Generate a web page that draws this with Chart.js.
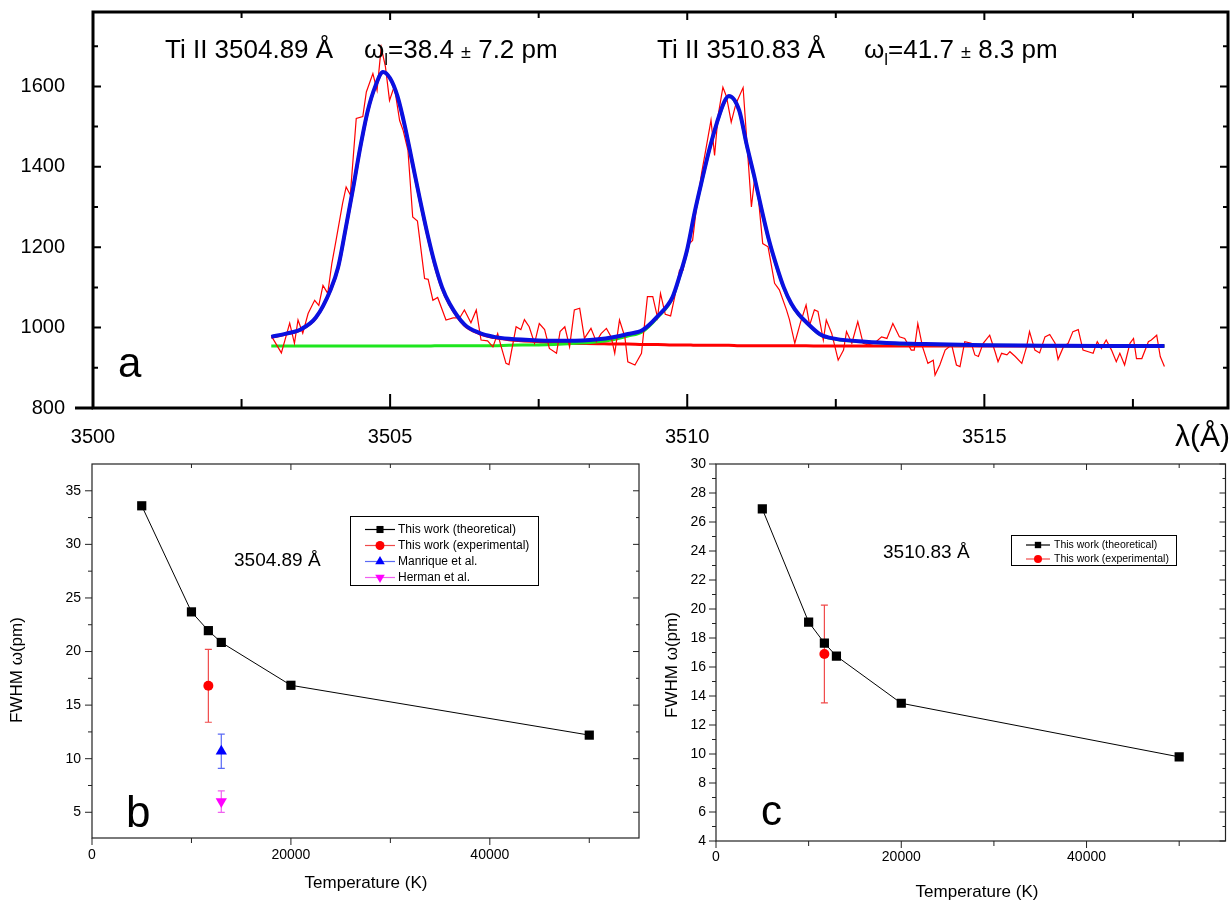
<!DOCTYPE html>
<html>
<head>
<meta charset="utf-8">
<script src="https://cdn.jsdelivr.net/npm/chart.js@4.4.0/dist/chart.umd.min.js"></script>
<style>
  body { margin: 0; background: #fff; width: 1232px; height: 904px; overflow: hidden; position: relative; }
  canvas { position: absolute; }
</style>
</head>
<body>
<canvas id="panelA" width="1232" height="460" style="left:0;top:0"></canvas>
<canvas id="panelB" width="650" height="452" style="left:0;top:452px"></canvas>
<canvas id="panelC" width="582" height="452" style="left:650px;top:452px"></canvas>
<script>
const specWl = [
  3503.01, 3503.17, 3503.31, 3503.39, 3503.45, 3503.53, 3503.62, 3503.73, 3503.80, 3503.87,
  3503.95, 3504.02, 3504.09, 3504.20, 3504.26, 3504.33, 3504.43, 3504.54, 3504.60, 3504.71,
  3504.78, 3504.85, 3504.92, 3504.99, 3505.07, 3505.16, 3505.22, 3505.30, 3505.38, 3505.46,
  3505.58, 3505.64, 3505.72, 3505.80, 3505.94, 3506.06, 3506.17, 3506.25, 3506.36, 3506.45,
  3506.53, 3506.64, 3506.73, 3506.81, 3506.87, 3506.95, 3507.00, 3507.12, 3507.20, 3507.26,
  3507.34, 3507.43, 3507.51, 3507.60, 3507.68, 3507.80, 3507.86, 3507.94, 3508.02, 3508.10,
  3508.19, 3508.27, 3508.38, 3508.47, 3508.55, 3508.64, 3508.72, 3508.78, 3508.86, 3508.95,
  3509.00, 3509.12, 3509.23, 3509.33, 3509.42, 3509.50, 3509.55, 3509.63, 3509.72, 3509.79,
  3509.87, 3509.93, 3510.01, 3510.09, 3510.15, 3510.24, 3510.32, 3510.40, 3510.46, 3510.52,
  3510.60, 3510.66, 3510.74, 3510.82, 3510.94, 3511.08, 3511.13, 3511.19, 3511.27, 3511.36,
  3511.47, 3511.55, 3511.67, 3511.72, 3511.81, 3511.90, 3512.00, 3512.06, 3512.14, 3512.20,
  3512.29, 3512.34, 3512.43, 3512.54, 3512.63, 3512.68, 3512.77, 3512.87, 3512.96, 3513.04,
  3513.15, 3513.27, 3513.36, 3513.46, 3513.57, 3513.66, 3513.77, 3513.82, 3513.88, 3513.96,
  3514.05, 3514.14, 3514.17, 3514.25, 3514.34, 3514.45, 3514.53, 3514.59, 3514.67, 3514.78,
  3514.84, 3514.90, 3514.98, 3515.09, 3515.18, 3515.23, 3515.29, 3515.38, 3515.43, 3515.52,
  3515.63, 3515.71, 3515.76, 3515.85, 3515.93, 3516.02, 3516.10, 3516.19, 3516.24, 3516.33,
  3516.41, 3516.49, 3516.58, 3516.66, 3516.75, 3516.83, 3516.90, 3516.97, 3517.05, 3517.14,
  3517.22, 3517.28, 3517.36, 3517.45, 3517.51, 3517.56, 3517.65, 3517.76, 3517.81, 3517.90,
  3517.96, 3518.03
];
const specCounts = [
  977, 937, 1011, 961, 1019, 986, 1035, 1068, 1055, 1105,
  1085, 1160, 1217, 1309, 1350, 1330, 1520, 1525, 1586, 1632,
  1590, 1697, 1650, 1565, 1600, 1515, 1490, 1441, 1275, 1265,
  1122, 1120, 1068, 1075, 1019, 1024, 1024, 1044, 1012, 1044,
  969, 967, 952, 985, 952, 911, 908, 1002, 995, 1020,
  1002, 961, 1010, 995, 948, 936, 990, 1002, 952, 1044,
  1048, 973, 998, 965, 985, 998, 977, 936, 1019, 977,
  915, 907, 936, 1077, 1077, 1025, 1085, 1033, 1029, 1077,
  1143, 1143, 1205, 1217, 1292, 1383, 1449, 1516, 1428, 1528,
  1598, 1575, 1511, 1557, 1597, 1300, 1366, 1333, 1209, 1201,
  1110, 1094, 1044, 1020, 961, 1010, 1056, 1006, 1044, 1040,
  969, 1019, 986, 919, 944, 990, 961, 1015, 961, 957,
  961, 977, 973, 1010, 977, 973, 944, 944, 1010, 952,
  911, 919, 882, 907, 944, 957, 907, 903, 965, 961,
  932, 928, 961, 981, 940, 915, 936, 932, 940, 928,
  911, 952, 990, 944, 937, 977, 983, 961, 921, 952,
  961, 990, 995, 944, 940, 936, 965, 948, 969, 944,
  915, 936, 907, 961, 973, 923, 923, 965, 969, 981,
  928, 903
];

// ---- panel a: fitted profiles ----
const fitWl = [
  3503.0, 3503.25, 3503.5, 3503.75, 3504.0, 3504.125, 3504.25, 3504.375, 3504.5, 3504.625,
  3504.75, 3504.88, 3505.0, 3505.125, 3505.25, 3505.375, 3505.5, 3505.625, 3505.75, 3505.875,
  3506.0, 3506.25, 3506.5, 3506.75, 3507.0, 3507.5, 3508.0, 3508.5, 3508.75, 3509.0,
  3509.25, 3509.5, 3509.75, 3509.875, 3510.0, 3510.125, 3510.25, 3510.375, 3510.5, 3510.625,
  3510.7, 3510.875, 3511.0, 3511.125, 3511.25, 3511.375, 3511.5, 3511.625, 3511.75, 3511.875,
  3512.0, 3512.25, 3512.5, 3513.0, 3513.5, 3514.0, 3515.0, 3516.0, 3517.0, 3518.03
];
const fitTotal = [
  977, 985, 996, 1025, 1095, 1150, 1245, 1345, 1450, 1540,
  1600, 1636, 1620, 1575, 1500, 1410, 1320, 1235, 1160, 1100,
  1060, 1008, 987, 977, 972, 968, 967, 971, 976, 984,
  994, 1028, 1075, 1130, 1195, 1287, 1368, 1445, 1510, 1562,
  1576, 1540, 1455, 1378, 1295, 1218, 1155, 1100, 1060, 1033,
  1014, 982, 972, 965, 961, 959, 956, 955, 954, 954
];
const fitPeak1 = [
  976, 984, 995, 1024, 1094, 1149, 1244, 1344, 1449, 1539,
  1599, 1635, 1619, 1574, 1499, 1409, 1319, 1234, 1158, 1098,
  1058, 1006, 985, 975, 970, 965, 961, 960, 959, 959,
  958, 958, 957, 957, 957, 956, 956, 956, 956, 956,
  956, 955, 955, 955, 955, 955, 955, 955, 955, 955,
  955, 954, 954, 954, 954, 954, 954, 954, 954, 954
];
const fitPeak2 = [
  954, 954, 954, 954, 954, 954, 954, 954, 954, 954,
  954, 954, 954, 954, 954, 954, 954, 954, 955, 955,
  955, 955, 955, 955, 956, 957, 960, 965, 970, 979,
  990, 1025, 1073, 1128, 1193, 1286, 1367, 1444, 1509, 1561,
  1575, 1539, 1454, 1377, 1294, 1217, 1154, 1099, 1059, 1032,
  1013, 981, 971, 964, 960, 958, 956, 955, 954, 954
];
const wlTicks = [3500, 3505, 3510, 3515];
const wlMajor = [3505, 3510, 3515];
const wlMinor = [3502.5, 3507.5, 3512.5, 3517.5];
const countTicks = [800, 1000, 1200, 1400, 1600];
const countMinor = [900, 1100, 1300, 1500, 1700];

// ---- panels b and c: FWHM vs temperature ----
const tempK = [5000, 10000, 11700, 13000, 20000, 50000];
const fwhm3504 = [33.6, 23.7, 21.95, 20.85, 16.85, 12.2];
const fwhm3510 = [26.9, 19.1, 17.65, 16.75, 13.5, 9.8];
const expTemp = [11700];
const exp3504 = [16.8];
const exp3504Err = [3.4];
const exp3510 = [16.9];
const exp3510Err = [3.37];
const manriqueTemp = [13000];
const manrique3504 = [10.7];
const manriqueErr = [1.6];
const hermanTemp = [13000];
const herman3504 = [6.0];
const hermanErr = [1.0];
const tempTicks = [0, 20000, 40000];
const tempMinor = [10000, 30000, 50000];
const fwhmTicksB = [5, 10, 15, 20, 25, 30, 35];
const fwhmMinorB = [7.5, 12.5, 17.5, 22.5, 27.5, 32.5];
const fwhmTicksC = [4, 6, 8, 10, 12, 14, 16, 18, 20, 22, 24, 26, 28, 30];
const fwhmMinorC = [5, 7, 9, 11, 13, 15, 17, 19, 21, 23, 25, 27, 29];

const FONT = "'Liberation Sans', Arial, sans-serif";
Chart.defaults.font.family = FONT;
Chart.defaults.color = '#000';

function pts(xs, ys) {
  return xs.map((x, i) => ({x: x, y: ys[i]}));
}

// axis with fixed box size so the plot frame lands where the original has it
function axis(min, max, ticks, size, fontSize, pad) {
  return {
    type: 'linear',
    min: min,
    max: max,
    grid: {display: false, drawTicks: false},
    border: {display: false},
    afterBuildTicks: s => { s.ticks = ticks.map(v => ({value: v})); },
    afterFit: s => {
      if (s.isHorizontal()) s.height = size; else s.width = size;
      s.paddingLeft = s.paddingRight = s.paddingTop = s.paddingBottom = 0;
    },
    ticks: {autoSkip: false, maxRotation: 0, padding: pad, font: {size: fontSize}, color: '#000',
            callback: v => String(v)}
  };
}

// frame + tick marks, dir 1 = outward, -1 = inward
function frameTicks(spec) {
  return {
    id: 'frameTicks',
    afterDatasetsDraw(chart) {
      const ctx = chart.ctx;
      const a = chart.chartArea;
      const x = chart.scales.x, y = chart.scales.y;
      ctx.save();
      ctx.strokeStyle = spec.color;
      ctx.lineWidth = spec.tickWidth;
      ctx.beginPath();
      function marks(side, list, len) {
        const s = spec[side];
        list.forEach(v => {
          if (side === 'bottom' || side === 'top') {
            const px = x.getPixelForValue(v);
            const y0 = side === 'bottom' ? a.bottom : a.top;
            const sign = (side === 'bottom' ? 1 : -1) * s.dir;
            ctx.moveTo(px, y0); ctx.lineTo(px, y0 + sign * len);
          } else {
            const py = y.getPixelForValue(v);
            const x0 = side === 'left' ? a.left : a.right;
            const sign = (side === 'left' ? -1 : 1) * s.dir;
            ctx.moveTo(x0, py); ctx.lineTo(x0 + sign * len, py);
          }
        });
      }
      ['bottom', 'top', 'left', 'right'].forEach(side => {
        const s = spec[side];
        marks(side, s.major, s.majorLen);
        marks(side, s.minor, s.minorLen);
      });
      ctx.stroke();
      ctx.lineWidth = spec.frameWidth;
      ctx.strokeRect(a.left, a.top, a.right - a.left, a.bottom - a.top);
      if (spec.stub) {
        // bottom axis line runs a little past the left frame edge
        ctx.beginPath();
        ctx.moveTo(a.left - spec.stub, a.bottom);
        ctx.lineTo(a.left, a.bottom);
        ctx.stroke();
      }
      ctx.restore();
    }
  };
}

// vertical error bars with caps, drawn under the markers
const errorBars = {
  id: 'errorBars',
  beforeDatasetsDraw(chart) {
    const ctx = chart.ctx;
    const x = chart.scales.x, y = chart.scales.y;
    chart.data.datasets.forEach(ds => {
      if (!ds.errors) return;
      ctx.save();
      ctx.strokeStyle = ds.errorColor;
      ctx.lineWidth = 1.2;
      ds.data.forEach((p, i) => {
        const px = x.getPixelForValue(p.x);
        const top = y.getPixelForValue(p.y + ds.errors[i]);
        const bot = y.getPixelForValue(p.y - ds.errors[i]);
        ctx.beginPath();
        ctx.moveTo(px, top); ctx.lineTo(px, bot);
        ctx.moveTo(px - 3.5, top); ctx.lineTo(px + 3.5, top);
        ctx.moveTo(px - 3.5, bot); ctx.lineTo(px + 3.5, bot);
        ctx.stroke();
      });
      ctx.restore();
    });
  }
};

// boxed legend inside the plot
function boxLegend(spec) {
  return {
    id: 'boxLegend',
    afterDraw(chart) {
      const ctx = chart.ctx;
      ctx.save();
      ctx.fillStyle = '#fff';
      ctx.fillRect(spec.x, spec.y, spec.w, spec.h);
      ctx.strokeStyle = '#000';
      ctx.lineWidth = 1;
      ctx.strokeRect(spec.x + 0.5, spec.y + 0.5, spec.w, spec.h);
      spec.items.forEach((it, i) => {
        const ds = chart.data.datasets[it.ds];
        const cy = spec.firstY + i * spec.gap;
        ctx.strokeStyle = it.line;
        ctx.lineWidth = 1.2;
        ctx.beginPath();
        ctx.moveTo(spec.lineX0, cy); ctx.lineTo(spec.lineX1, cy);
        ctx.stroke();
        ctx.fillStyle = ds.pointBackgroundColor;
        Chart.helpers.drawPoint(ctx, {pointStyle: ds.pointStyle, radius: it.r,
          rotation: ds.pointRotation || 0, borderWidth: 0}, spec.markX, cy);
        ctx.fillStyle = '#000';
        ctx.font = spec.font;
        ctx.textAlign = 'left';
        ctx.textBaseline = 'middle';
        ctx.fillText(ds.label, spec.textX, cy);
      });
      ctx.restore();
    }
  };
}

// free text: axis titles, panel letters, line names
function panelText(items) {
  return {
    id: 'panelText',
    afterDraw(chart) {
      const ctx = chart.ctx;
      items.forEach(t => {
        ctx.save();
        ctx.fillStyle = '#000';
        ctx.font = t.font;
        ctx.textAlign = t.align || 'left';
        ctx.textBaseline = t.base || 'alphabetic';
        ctx.translate(t.x, t.y);
        if (t.rot) ctx.rotate(t.rot);
        ctx.fillText(t.text, 0, 0);
        ctx.restore();
      });
    }
  };
}

// "ω_l=38.4 ± 7.2 pm" with subscript and small ±
function drawOmega(ctx, x, y, val, err) {
  const parts = [
    ['ω', '26px ' + FONT, 0],
    ['l', '17px ' + FONT, 7],
    ['=' + val + ' ', '26px ' + FONT, 0],
    ['±', '18px ' + FONT, 0],
    [' ' + err + ' pm', '26px ' + FONT, 0]
  ];
  let cx = x;
  parts.forEach(p => {
    ctx.font = p[1];
    ctx.fillText(p[0], cx, y + p[2]);
    cx += ctx.measureText(p[0]).width;
  });
}

const spectrumText = {
  id: 'spectrumText',
  afterDraw(chart) {
    const ctx = chart.ctx;
    ctx.save();
    ctx.fillStyle = '#000';
    ctx.textAlign = 'left';
    ctx.textBaseline = 'alphabetic';
    ctx.font = '26px ' + FONT;
    ctx.fillText('Ti II 3504.89 Å', 165, 58);
    drawOmega(ctx, 364, 58, '38.4', '7.2');
    ctx.font = '26px ' + FONT;
    ctx.fillText('Ti II 3510.83 Å', 657, 58);
    drawOmega(ctx, 864, 58, '41.7', '8.3');
    ctx.font = '42px ' + FONT;
    ctx.fillText('a', 118, 377);
    ctx.font = '30px ' + FONT;
    ctx.textAlign = 'right';
    ctx.textBaseline = 'middle';
    ctx.fillText('λ(Å)', 1230, 438);
    ctx.restore();
  }
};

const common = {
  responsive: false,
  animation: false,
  devicePixelRatio: 1,
  plugins: {legend: {display: false}, tooltip: {enabled: false}}
};

// ---------- panel a ----------
new Chart(document.getElementById('panelA'), {
  type: 'scatter',
  data: {
    datasets: [
      {label: 'fit', data: pts(fitWl, fitTotal), showLine: true, borderColor: '#0a10e0',
       borderWidth: 4, pointRadius: 0, cubicInterpolationMode: 'monotone'},
      {label: 'data', data: pts(specWl, specCounts), showLine: true, borderColor: '#ff0000',
       borderWidth: 1.2, pointRadius: 0, tension: 0},
      {label: 'peak 2', data: pts(fitWl, fitPeak2), showLine: true, borderColor: '#1ee61e',
       borderWidth: 3, pointRadius: 0, cubicInterpolationMode: 'monotone'},
      {label: 'peak 1', data: pts(fitWl, fitPeak1), showLine: true, borderColor: '#ff0000',
       borderWidth: 3, pointRadius: 0, cubicInterpolationMode: 'monotone'}
    ]
  },
  options: Object.assign({}, common, {
    layout: {padding: {left: 0, top: 12, right: 4, bottom: 0}},
    scales: {
      x: axis(3500, 3519.1, wlTicks, 52, 20, 17),
      y: axis(800, 1785, countTicks, 93, 20, 28)
    }
  }),
  plugins: [
    frameTicks({
      color: '#000', tickWidth: 2, frameWidth: 3, stub: 18,
      bottom: {major: wlMajor, majorLen: 14, minor: wlMinor, minorLen: 9, dir: -1},
      top: {major: wlMajor, majorLen: 8, minor: wlMinor, minorLen: 6, dir: -1},
      left: {major: countTicks, majorLen: 8, minor: countMinor, minorLen: 5, dir: -1},
      right: {major: countTicks, majorLen: 8, minor: countMinor, minorLen: 5, dir: -1}
    }),
    spectrumText
  ]
});

// ---------- panel b ----------
new Chart(document.getElementById('panelB'), {
  type: 'scatter',
  data: {
    datasets: [
      {label: 'This work (theoretical)', data: pts(tempK, fwhm3504), showLine: true,
       borderColor: '#000', borderWidth: 1, pointStyle: 'rect', pointRadius: 6.5,
       pointBackgroundColor: '#000', pointBorderWidth: 0},
      {label: 'This work (experimental)', data: pts(expTemp, exp3504), errors: exp3504Err,
       errorColor: '#f04a4a', pointStyle: 'circle', pointRadius: 5,
       pointBackgroundColor: '#ff0000', pointBorderWidth: 0},
      {label: 'Manrique et al.', data: pts(manriqueTemp, manrique3504), errors: manriqueErr,
       errorColor: '#5a6af5', pointStyle: 'triangle', pointRadius: 6.5,
       pointBackgroundColor: '#0000ff', pointBorderWidth: 0},
      {label: 'Herman et al.', data: pts(hermanTemp, herman3504), errors: hermanErr,
       errorColor: '#f060f0', pointStyle: 'triangle', pointRotation: 180, pointRadius: 6.5,
       pointBackgroundColor: '#ff00ff', pointBorderWidth: 0}
    ]
  },
  options: Object.assign({}, common, {
    layout: {padding: {left: 0, top: 12, right: 11, bottom: 0}},
    scales: {
      x: axis(0, 55000, tempTicks, 66, 14, 9),
      y: axis(2.6, 37.5, fwhmTicksB, 92, 14, 11)
    }
  }),
  plugins: [
    errorBars,
    frameTicks({
      color: '#222', tickWidth: 1, frameWidth: 1.2,
      bottom: {major: tempTicks, majorLen: 7, minor: tempMinor, minorLen: 5, dir: 1},
      top: {major: [20000, 40000], majorLen: 6, minor: tempMinor, minorLen: 4, dir: -1},
      left: {major: fwhmTicksB, majorLen: 7, minor: fwhmMinorB, minorLen: 4, dir: 1},
      right: {major: fwhmTicksB, majorLen: 6, minor: fwhmMinorB, minorLen: 3, dir: -1}
    }),
    boxLegend({
      x: 350, y: 64, w: 188, h: 69, firstY: 77.5, gap: 16,
      lineX0: 365, lineX1: 395, markX: 380, textX: 398, font: '12px ' + FONT,
      items: [
        {ds: 0, line: '#000', r: 5},
        {ds: 1, line: '#f04a4a', r: 4.5},
        {ds: 2, line: '#5a6af5', r: 5.5},
        {ds: 3, line: '#f060f0', r: 5.5}
      ]
    }),
    panelText([
      {text: '3504.89 Å', x: 234, y: 114, font: '19px ' + FONT},
      {text: 'b', x: 126, y: 375, font: '44px ' + FONT},
      {text: 'FWHM ω(pm)', x: 17, y: 218, font: '17px ' + FONT, align: 'center', base: 'middle', rot: -Math.PI / 2},
      {text: 'Temperature (K)', x: 366, y: 431, font: '17px ' + FONT, align: 'center', base: 'middle'}
    ])
  ]
});

// ---------- panel c ----------
new Chart(document.getElementById('panelC'), {
  type: 'scatter',
  data: {
    datasets: [
      {label: 'This work (theoretical)', data: pts(tempK, fwhm3510), showLine: true,
       borderColor: '#000', borderWidth: 1, pointStyle: 'rect', pointRadius: 6.5,
       pointBackgroundColor: '#000', pointBorderWidth: 0},
      {label: 'This work (experimental)', data: pts(expTemp, exp3510), errors: exp3510Err,
       errorColor: '#f04a4a', pointStyle: 'circle', pointRadius: 5,
       pointBackgroundColor: '#ff0000', pointBorderWidth: 0}
    ]
  },
  options: Object.assign({}, common, {
    layout: {padding: {left: 0, top: 12, right: 2, bottom: 0}},
    scales: {
      x: axis(0, 55000, tempTicks, 63, 14, 8),
      y: axis(4, 30, fwhmTicksC, 66, 14, 10)
    }
  }),
  plugins: [
    errorBars,
    frameTicks({
      color: '#222', tickWidth: 1, frameWidth: 1.2,
      bottom: {major: tempTicks, majorLen: 7, minor: tempMinor, minorLen: 5, dir: 1},
      top: {major: [20000, 40000], majorLen: 6, minor: tempMinor, minorLen: 4, dir: -1},
      left: {major: fwhmTicksC, majorLen: 7, minor: fwhmMinorC, minorLen: 4, dir: 1},
      right: {major: fwhmTicksC, majorLen: 6, minor: fwhmMinorC, minorLen: 3, dir: -1}
    }),
    boxLegend({
      x: 361, y: 83, w: 165, h: 30, firstY: 93, gap: 14,
      lineX0: 376, lineX1: 400, markX: 388, textX: 404, font: '10.5px ' + FONT,
      items: [
        {ds: 0, line: '#000', r: 4.5},
        {ds: 1, line: '#f04a4a', r: 4}
      ]
    }),
    panelText([
      {text: '3510.83 Å', x: 233, y: 106, font: '19px ' + FONT},
      {text: 'c', x: 111, y: 373, font: '42px ' + FONT},
      {text: 'FWHM ω(pm)', x: 22, y: 213, font: '17px ' + FONT, align: 'center', base: 'middle', rot: -Math.PI / 2},
      {text: 'Temperature (K)', x: 327, y: 440, font: '17px ' + FONT, align: 'center', base: 'middle'}
    ])
  ]
});
</script>
</body>
</html>
